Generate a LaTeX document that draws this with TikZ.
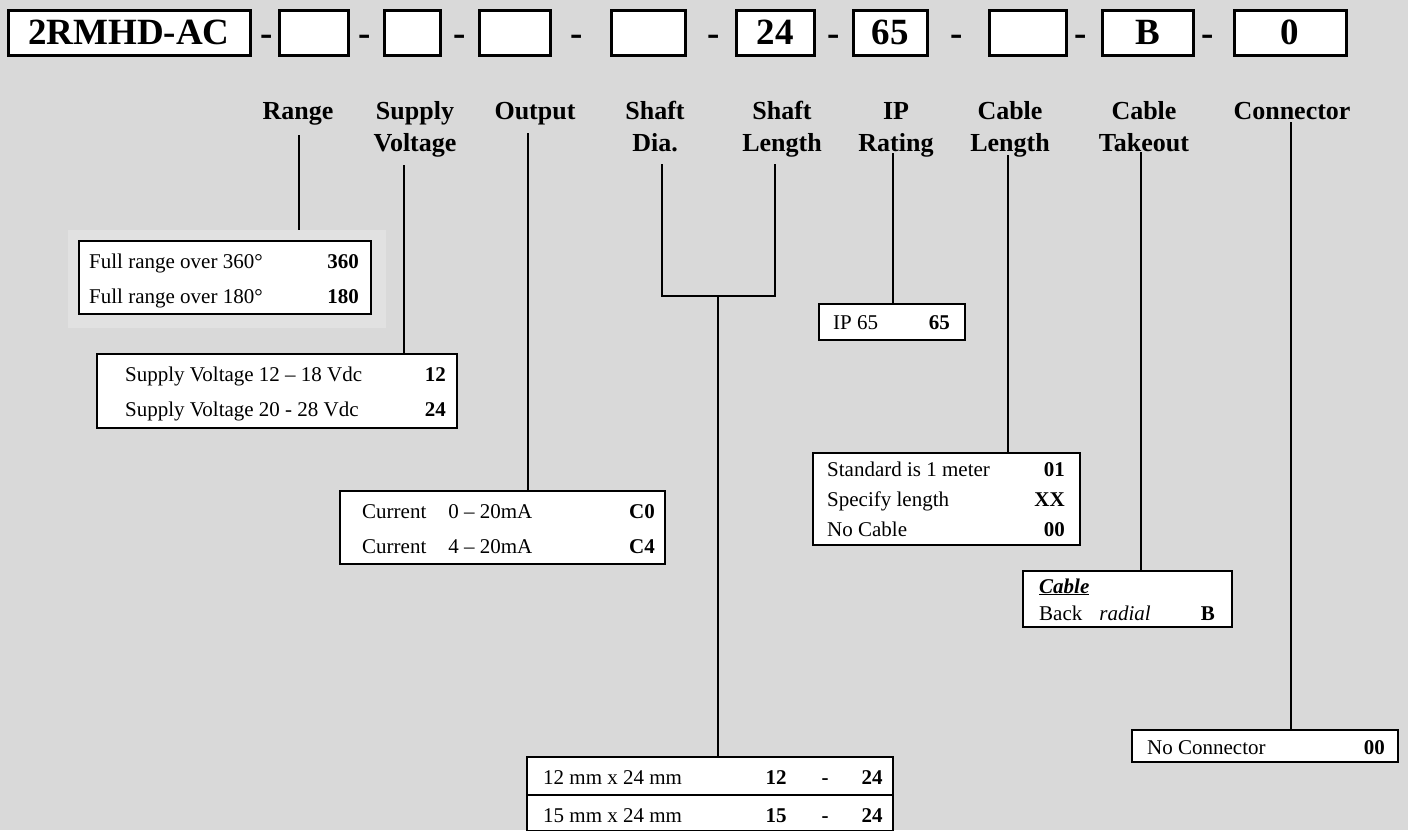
\documentclass[tikz,border=0pt]{standalone}
\usepackage{fontspec}
\setmainfont{Liberation Serif}
\usepackage{tikz}
\usetikzlibrary{positioning}
\definecolor{pgback}{RGB}{217,217,217}
\definecolor{pgshade}{RGB}{225,225,225}
\tikzstyle{partbox} = [rectangle, draw=black, fill=white, line width=3pt, inner sep=0pt, font=\fontsize{37}{40}\selectfont\bfseries]
\tikzstyle{partsep} = [inner sep=0pt, anchor=base, font=\fontsize{37}{40}\selectfont\bfseries]
\tikzstyle{field} = [inner sep=0pt, anchor=base, align=center, font=\fontsize{26}{32}\selectfont\bfseries]
\tikzstyle{optbox} = [rectangle, draw=black, fill=white, line width=2pt, inner sep=0pt]
\tikzstyle{opt} = [inner sep=0pt, anchor=base west, font=\fontsize{21}{25}\selectfont]
\tikzstyle{code} = [inner sep=0pt, anchor=base east, font=\fontsize{21}{25}\selectfont\bfseries]
\tikzstyle{link} = [line width=2pt]

\begin{document}
\begin{tikzpicture}[x=1pt,y=-1pt]
\fill[pgback] (0,0) rectangle (1408,830);
\useasboundingbox (0,0) rectangle (1408,830);

% Part number
\node[partbox, minimum width=242pt, minimum height=45pt] (pBase) at (129,32.5) {2RMHD-AC};
\node[partbox, minimum width=69pt, minimum height=45pt] (pRange) at (313.5,32.5) {};
\node[partbox, minimum width=56pt, minimum height=45pt] (pSupply) at (412,32.5) {};
\node[partbox, minimum width=71pt, minimum height=45pt] (pOutput) at (514.5,32.5) {};
\node[partbox, minimum width=74pt, minimum height=45pt] (pDia) at (648,32.5) {};
\node[partbox, minimum width=78pt, minimum height=45pt] (pLen) at (775,32.5) {24};
\node[partbox, minimum width=74pt, minimum height=45pt] (pIP) at (890,32.5) {65};
\node[partbox, minimum width=77pt, minimum height=45pt] (pCable) at (1027.5,32.5) {};
\node[partbox, minimum width=91pt, minimum height=45pt] (pTake) at (1147.5,32.5) {B};
\node[partbox, minimum width=112pt, minimum height=45pt] (pConn) at (1290,32.5) {0};

% Separators
\node[partsep] (s1) at (267,45) {-};
\node[partsep] (s2) at (365,45) {-};
\node[partsep] (s3) at (460,45) {-};
\node[partsep] (s4) at (577,45) {-};
\node[partsep] (s5) at (714,45) {-};
\node[partsep] (s6) at (834,45) {-};
\node[partsep] (s7) at (957,45) {-};
\node[partsep] (s8) at (1081,45) {-};
\node[partsep] (s9) at (1208,45) {-};

% Field names (base = last line)
\node[field] (lRange) at (298,119) {Range};
\node[field] (lSupply) at (415,151) {Supply\\Voltage};
\node[field] (lOutput) at (535,119) {Output};
\node[field] (lDia) at (655,151) {Shaft\\Dia.};
\node[field] (lLen) at (782,151) {Shaft\\Length};
\node[field] (lIP) at (896,151) {IP\\Rating};
\node[field] (lCable) at (1010,151) {Cable\\Length};
\node[field] (lTake) at (1144,151) {Cable\\Takeout};
\node[field] (lConn) at (1292,119) {Connector};

% Line tops
\coordinate (tRange) at (299,135);
\coordinate (tSupply) at (404,165);
\coordinate (tOutput) at (528,133);
\coordinate (tDia) at (662,164);
\coordinate (tLen) at (775,164);
\coordinate (jShaft) at (718,296);
\coordinate (tIP) at (893,153);
\coordinate (tCable) at (1008,155);
\coordinate (tTake) at (1141,152);
\coordinate (tConn) at (1291,122);

% Range
\node[fill=pgshade, inner sep=0pt, minimum width=318pt, minimum height=98pt] (rangeShade) at (227,279) {};
\node[optbox, minimum width=292pt, minimum height=73pt] (rangeBox) at (225,277.5) {};
\node[opt] (r360) at (89,268) {Full range over 360°};
\node[code] (c360) at (359,268) {360};
\node[opt] (r180) at (89,303) {Full range over 180°};
\node[code] (c180) at (359,303) {180};

% Supply voltage
\node[optbox, minimum width=360pt, minimum height=74pt] (supplyBox) at (277,391) {};
\node[opt] (v12) at (125,381) {Supply Voltage 12 – 18 Vdc};
\node[code] (c12) at (446,381) {12};
\node[opt] (v24) at (125,416) {Supply Voltage 20 - 28 Vdc};
\node[code] (c24) at (446,416) {24};

% Output
\node[optbox, minimum width=325pt, minimum height=73pt] (outputBox) at (502.5,527.5) {};
\node[opt] (o0) at (362,518) {Current\hspace*{22pt}0 – 20mA};
\node[code] (cC0) at (655,518) {C0};
\node[opt] (o4) at (362,553) {Current\hspace*{22pt}4 – 20mA};
\node[code] (cC4) at (655,553) {C4};

% Shaft
\node[optbox, minimum width=366pt, minimum height=38pt] (shaftA) at (710,776) {};
\node[optbox, minimum width=366pt, minimum height=36pt] (shaftB) at (710,813) {};
\node[opt] (sh12) at (543,784) {12 mm x 24 mm};
\node[code, anchor=base] (cD12) at (776,784) {12};
\node[code, anchor=base] (cS12) at (825,784) {-};
\node[code, anchor=base] (cL12) at (872,784) {24};
\node[opt] (sh15) at (543,822) {15 mm x 24 mm};
\node[code, anchor=base] (cD15) at (776,822) {15};
\node[code, anchor=base] (cS15) at (825,822) {-};
\node[code, anchor=base] (cL15) at (872,822) {24};

% IP rating
\node[optbox, minimum width=146pt, minimum height=36pt] (ipBox) at (892,322) {};
\node[opt] (ip) at (833,329) {IP 65};
\node[code] (c65) at (950,329) {65};

% Cable length
\node[optbox, minimum width=267pt, minimum height=92pt] (cableBox) at (946.5,499) {};
\node[opt] (cl1) at (827,476) {Standard is 1 meter};
\node[code] (c01) at (1065,476) {01};
\node[opt] (clx) at (827,506) {Specify length};
\node[code] (cXX) at (1065,506) {XX};
\node[opt] (cl0) at (827,536) {No Cable};
\node[code] (c00) at (1065,536) {00};

% Cable takeout
\node[optbox, minimum width=209pt, minimum height=56pt] (takeBox) at (1127.5,599) {};
\node[opt] (tkHead) at (1039,593) {\underline{\textbf{\textit{Cable}}}};
\node[opt] (tkBack) at (1039,620) {Back\hspace*{17pt}\textit{radial}};
\node[code] (cB) at (1215,620) {B};

% Connector
\node[optbox, minimum width=266pt, minimum height=32pt] (connBox) at (1265,746) {};
\node[opt] (cn) at (1147,754) {No Connector};
\node[code] (cN00) at (1385,754) {00};

% Connectors
\draw[link] (tRange) -- (tRange |- rangeShade.north);
\draw[link] (tSupply) -- (tSupply |- supplyBox.north);
\draw[link] (tOutput) -- (tOutput |- outputBox.north);
\draw[link] (tDia) |- (jShaft) -| (tLen);
\draw[link] (jShaft) -- (jShaft |- shaftA.north);
\draw[link] (tIP) -- (tIP |- ipBox.north);
\draw[link] (tCable) -- (tCable |- cableBox.north);
\draw[link] (tTake) -- (tTake |- takeBox.north);
\draw[link] (tConn) -- (tConn |- connBox.north);
\end{tikzpicture}
\end{document}
